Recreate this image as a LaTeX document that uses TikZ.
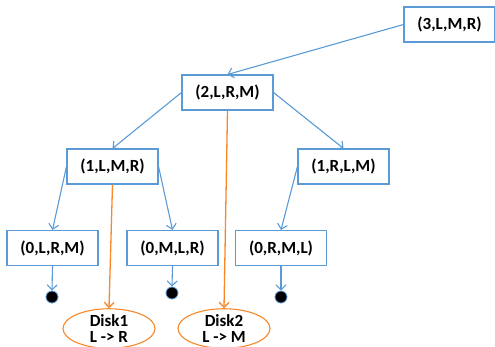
\documentclass[tikz,border=0pt]{standalone}
\usepackage{fontspec}
\setmainfont{Carlito}
\usetikzlibrary{arrows.meta,shapes.geometric}
\definecolor{lblue}{RGB}{91,155,213}
\definecolor{lorange}{RGB}{247,135,40}
\tikzset{
  box/.style={draw=lblue, line width=1.1pt, minimum width=91pt, minimum height=35pt, inner sep=0pt, font=\bfseries\fontsize{17}{19}\selectfont},
  disk/.style={draw=lorange, ellipse, line width=1.1pt, minimum width=92pt, minimum height=37pt, inner sep=0pt, align=center, font=\bfseries\fontsize{17}{16}\selectfont},
  leaf/.style={circle, fill=black, draw=lblue, line width=0.8pt, minimum size=12pt, inner sep=0pt},
  barr/.style={draw=lblue, line width=1.1pt, -{Straight Barb[length=5pt,width=10pt]}},
  oarr/.style={draw=lorange, line width=1.3pt, -{Straight Barb[length=5pt,width=10pt]}}
}
\begin{document}
\begin{tikzpicture}[x=1pt,y=-1pt]
\useasboundingbox (0,0) rectangle (495,346);
\node[box] (n3) at (449.5,24.5) {(3,L,M,R)};
\node[box] (n2) at (227.5,92.5) {(2,L,R,M)};
\node[box] (n1a) at (112.5,166.5) {(1,L,M,R)};
\node[box] (n1b) at (343.5,166.5) {(1,R,L,M)};
\node[box] (n0a) at (52.5,248) {(0,L,R,M)};
\node[box] (n0b) at (172.5,248) {(0,M,L,R)};
\node[box] (n0c) at (281,248) {(0,R,M,L)};
\node[leaf] (l1) at (52,297) {};
\node[leaf] (l2) at (172,293) {};
\node[leaf] (l3) at (281,297) {};
\node[disk] (d1) at (109,328.5) {Disk1\\L -> R};
\node[disk] (d2) at (224,328.5) {Disk2\\L -> M};
\draw[barr] (n3.west) -- (n2.north);
\draw[barr] (n2.west) -- (n1a.north);
\draw[barr] (n2.east) -- (n1b.north);
\draw[barr] (n1a.west) -- (n0a.north);
\draw[barr] (n1a.east) -- (n0b.north);
\draw[barr] (n1b.west) -- (n0c.north);
\draw[barr] (n0a.south) -- (l1.north);
\draw[barr] (n0b.south) -- (l2.north);
\draw[barr] (n0c.south) -- (l3.north);
\draw[oarr] (n1a.south) -- (d1.north);
\draw[oarr] (n2.south) -- (d2.north);
\end{tikzpicture}
\end{document}
